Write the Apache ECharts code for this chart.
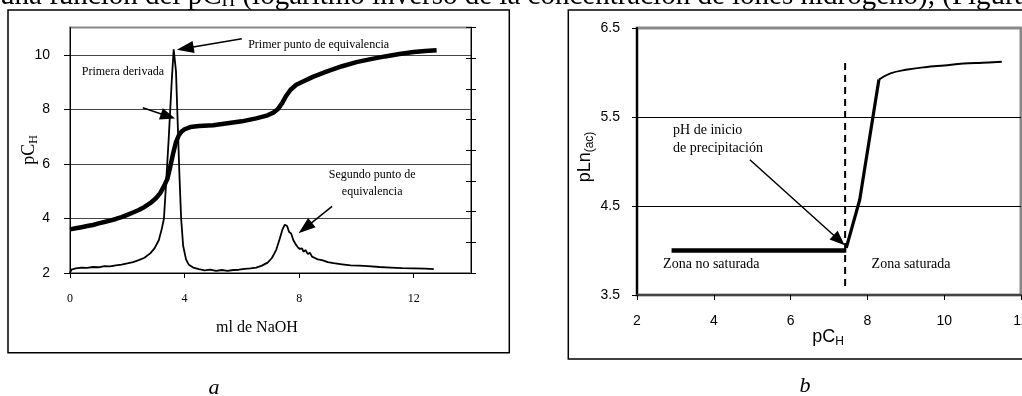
<!DOCTYPE html>
<html><head><meta charset="utf-8">
<script src="https://cdn.jsdelivr.net/npm/echarts/dist/echarts.min.js"></script>
<style>html,body{margin:0;padding:0;background:#fff;overflow:hidden}#c{width:1022px;height:396px}</style>
</head><body><div id="c"></div>
<script>
// ---- Chart a: titration (pC_H vs ml NaOH) ----
const titracion = [
 [0,3.60],[0.2,3.64],[0.4,3.68],[0.6,3.72],[0.8,3.76],[1.0,3.82],[1.2,3.87],[1.4,3.92],[1.6,3.98],[1.8,4.05],
 [2.0,4.13],[2.2,4.22],[2.4,4.31],[2.6,4.42],[2.8,4.56],[3.0,4.74],[3.15,4.93],[3.3,5.22],[3.4,5.45],[3.5,5.90],
 [3.6,6.38],[3.7,6.80],[3.8,7.05],[3.9,7.19],[4.0,7.27],[4.2,7.35],[4.5,7.39],[5.0,7.42],[5.5,7.49],[6.0,7.56],
 [6.5,7.67],[6.9,7.78],[7.1,7.88],[7.25,8.00],[7.4,8.22],[7.55,8.50],[7.7,8.72],[7.9,8.90],[8.1,9.00],[8.5,9.20],
 [9.0,9.40],[9.5,9.58],[10.0,9.73],[10.5,9.84],[11.0,9.94],[11.5,10.03],[12.0,10.10],[12.4,10.14],[12.8,10.17]
];
const derivada = [
 [0,2.0],[0.05,2.12],[0.2,2.17],[0.4,2.2],[0.6,2.19],[0.8,2.22],[1.0,2.21],[1.2,2.25],[1.4,2.24],[1.6,2.28],
 [1.8,2.31],[2.0,2.35],[2.2,2.4],[2.4,2.47],[2.6,2.56],[2.8,2.72],[2.95,2.9],[3.1,3.2],[3.2,3.6],[3.28,4.0],
 [3.35,5.2],[3.45,7.0],[3.55,9.0],[3.62,10.2],[3.70,9.4],[3.76,7.5],[3.82,5.6],[3.88,4.0],[3.95,3.0],[4.05,2.5],
 [4.15,2.3],[4.3,2.2],[4.5,2.14],[4.7,2.1],[4.9,2.12],[5.1,2.08],[5.3,2.11],[5.5,2.08],[5.7,2.11],[5.9,2.12],
 [6.1,2.15],[6.3,2.17],[6.5,2.2],[6.7,2.27],[6.9,2.38],[7.05,2.55],[7.2,2.85],[7.32,3.25],[7.42,3.6],[7.5,3.77],
 [7.58,3.72],[7.65,3.5],[7.72,3.45],[7.8,3.2],[7.88,3.05],[7.95,2.95],[8.02,2.88],[8.1,2.9],[8.15,2.78],[8.22,2.84],
 [8.3,2.7],[8.38,2.74],[8.45,2.6],[8.55,2.55],[8.65,2.5],[8.8,2.47],[9.0,2.4],[9.2,2.36],[9.5,2.32],[9.8,2.28],
 [10.1,2.27],[10.4,2.25],[10.8,2.22],[11.2,2.2],[11.6,2.18],[12.0,2.17],[12.4,2.16],[12.7,2.14]
];
// ---- Chart b: pLn(ac) vs pC_H ----
const zonaNoSaturada = [[2.9,4.0],[7.45,4.0]];
const subida = [[7.45,4.03],[7.8,4.57],[8.3,5.92]];
const meseta = [[8.3,5.92],[8.6,5.99],[9.0,6.03],[9.5,6.06],[10,6.08],[10.5,6.10],[11,6.11],[11.5,6.12]];
const inicioPrecipitacion = [[7.42,3.6],[7.42,6.13]];

const chart = echarts.init(document.getElementById('c'), null, {renderer:'canvas'});
const serif = '"Liberation Serif","Times New Roman",serif';
const sans = '"Liberation Sans",Arial,sans-serif';

const option = {
  animation:false,
  backgroundColor:'#fff',
  grid:[
    {left:70,top:27.5,width:401,height:245.5,show:true,borderColor:'#888',borderWidth:2,outerBoundsMode:'none',containLabel:false},
    {left:637,top:28,width:384,height:267,show:true,borderColor:'#888',borderWidth:3,outerBoundsMode:'none',containLabel:false}
  ],
  xAxis:[
    {gridIndex:0,type:'value',min:0,max:14,interval:4,
     axisLine:{show:true,lineStyle:{color:'#000',width:1}},
     axisTick:{show:true,length:5,lineStyle:{color:'#000'}},
     axisLabel:{fontFamily:serif,fontSize:12,color:'#000',margin:20,showMaxLabel:false},
     splitLine:{show:false}},
    {gridIndex:1,type:'value',min:2,max:12,interval:2,
     axisLine:{show:true,lineStyle:{color:'#444',width:2}},
     axisTick:{show:true,length:5,lineStyle:{color:'#000'}},
     axisLabel:{fontFamily:sans,fontSize:14,color:'#000',margin:19},
     splitLine:{show:false}}
  ],
  yAxis:[
    {gridIndex:0,type:'value',min:2,max:11,interval:2,
     axisLine:{show:true,lineStyle:{color:'#000',width:1}},
     axisTick:{show:true,length:6,lineStyle:{color:'#000'}},
     axisLabel:{fontFamily:sans,fontSize:14,color:'#000',margin:20,showMaxLabel:false},
     splitLine:{show:true,showMinLine:false,showMaxLine:false,lineStyle:{color:'#444',width:1}}},
    {gridIndex:0,type:'value',position:'right',min:0,max:8,interval:1,
     axisLine:{show:true,onZero:false,lineStyle:{color:'#000',width:1}},
     axisTick:{show:true,length:5,lineStyle:{color:'#000'}},
     axisLabel:{show:false},splitLine:{show:false}},
    {gridIndex:0,type:'value',position:'right',min:0,max:8,interval:1,
     axisLine:{show:false,onZero:false},
     axisTick:{show:true,inside:true,length:5,lineStyle:{color:'#000'}},
     axisLabel:{show:false},splitLine:{show:false}},
    {gridIndex:1,type:'value',min:3.5,max:6.5,interval:1,
     axisLine:{show:true,lineStyle:{color:'#000',width:2}},
     axisTick:{show:true,length:5,lineStyle:{color:'#000'}},
     axisLabel:{fontFamily:sans,fontSize:14,color:'#000',margin:17,formatter:v=>v.toFixed(1)},
     splitLine:{show:true,showMinLine:false,showMaxLine:false,lineStyle:{color:'#000',width:1}}}
  ],
  series:[
    {type:'line',xAxisIndex:0,yAxisIndex:0,data:titracion,showSymbol:false,symbol:'none',
     lineStyle:{color:'#000',width:4.5},z:3},
    {type:'line',xAxisIndex:0,yAxisIndex:0,data:derivada,showSymbol:false,symbol:'none',
     lineStyle:{color:'#000',width:1.8},z:4},
    {type:'line',xAxisIndex:1,yAxisIndex:3,data:zonaNoSaturada,showSymbol:false,symbol:'none',
     lineStyle:{color:'#000',width:4.5}},
    {type:'line',xAxisIndex:1,yAxisIndex:3,data:subida,showSymbol:false,symbol:'none',
     lineStyle:{color:'#000',width:3.2}},
    {type:'line',xAxisIndex:1,yAxisIndex:3,data:meseta,showSymbol:false,symbol:'none',smooth:0.4,
     lineStyle:{color:'#000',width:2}},
    {type:'line',xAxisIndex:1,yAxisIndex:3,data:inicioPrecipitacion,showSymbol:false,symbol:'none',
     lineStyle:{color:'#000',width:2,type:[7,5]}}
  ]
};
chart.setOption(option);

function P(g,pt){return chart.convertToPixel({gridIndex:g},pt);}
function arrow(g,tail,head,len,wid,lw){
  const t=P(g,tail),h=P(g,head);
  const dx=h[0]-t[0],dy=h[1]-t[1],d=Math.hypot(dx,dy),ux=dx/d,uy=dy/d;
  const bx=h[0]-ux*len,by=h[1]-uy*len,nx=-uy*wid/2,ny=ux*wid/2;
  return [
    {type:'line',shape:{x1:t[0],y1:t[1],x2:bx+ux*2,y2:by+uy*2},style:{stroke:'#000',lineWidth:lw},z:10},
    {type:'polygon',shape:{points:[[h[0],h[1]],[bx+nx,by+ny],[bx-nx,by-ny]]},style:{fill:'#000'},z:10}
  ];
}
function label(g,pt,text,font,size,align){
  const p=P(g,pt);
  return {type:'text',x:p[0],y:p[1],z:10,style:{text:text,fontFamily:font,fontSize:size,fill:'#000',align:align||'left',verticalAlign:'middle'}};
}
const gfx=[
  {type:'rect',shape:{x:8,y:10,width:501.3,height:342.7},style:{fill:'none',stroke:'#000',lineWidth:1.5},z:1},
  {type:'rect',shape:{x:568.3,y:10,width:470,height:349},style:{fill:'none',stroke:'#000',lineWidth:1.5},z:1},
  {type:'text',x:0,y:-18,z:10,style:{text:'{a|una función del pC}{b|H}{a| (logaritmo inverso de la concentración de iones hidrogeno), (Figura}',
    align:'left',verticalAlign:'top',rich:{a:{fontFamily:serif,fontSize:29,lineHeight:29,fill:'#000'},b:{fontFamily:serif,fontSize:19,lineHeight:16,verticalAlign:'bottom',fill:'#000'}}}},
  // chart a axis names
  {type:'text',x:29,y:150,rotation:Math.PI/2,z:10,style:{text:'{a|pC}{b|H}',align:'center',verticalAlign:'middle',
    rich:{a:{fontFamily:serif,fontSize:18,lineHeight:22,fill:'#000'},b:{fontFamily:serif,fontSize:12,lineHeight:12,verticalAlign:'bottom',fill:'#000'}}}},
  {type:'text',x:257,y:328,z:10,style:{text:'ml de NaOH',fontFamily:serif,fontSize:16,fill:'#000',align:'center',verticalAlign:'middle'}},
  // chart b axis names
  {type:'text',x:585,y:157,rotation:Math.PI/2,z:10,style:{text:'{a|pLn}{b|(ac)}',align:'center',verticalAlign:'middle',
    rich:{a:{fontFamily:sans,fontSize:18,lineHeight:22,fill:'#000'},b:{fontFamily:sans,fontSize:12,lineHeight:12,verticalAlign:'bottom',fill:'#000'}}}},
  {type:'text',x:828,y:337,z:10,style:{text:'{a|pC}{b|H}',align:'center',verticalAlign:'middle',
    rich:{a:{fontFamily:sans,fontSize:18,lineHeight:22,fill:'#000'},b:{fontFamily:sans,fontSize:12,lineHeight:12,verticalAlign:'bottom',fill:'#000'}}}},
  {type:'text',x:214,y:388,z:10,style:{text:'a',fontFamily:serif,fontStyle:'italic',fontSize:22,fill:'#000',align:'center',verticalAlign:'middle'}},
  {type:'text',x:805,y:386,z:10,style:{text:'b',fontFamily:serif,fontStyle:'italic',fontSize:22,fill:'#000',align:'center',verticalAlign:'middle'}},
  label(0,[6.22,10.35],'Primer punto de equivalencia',serif,12),
  label(0,[0.41,9.36],'Primera derivada',serif,12),
  label(0,[10.55,5.60],'Segundo punto de',serif,12,'center'),
  label(0,[10.55,4.99],'equivalencia',serif,12,'center'),
  label(1,[2.94,5.35],'pH de inicio',serif,14),
  label(1,[2.94,5.15],'de precipitación',serif,14),
  label(1,[2.68,3.84],'Zona no saturada',serif,14),
  label(1,[8.11,3.84],'Zona saturada',serif,14)
].concat(
  arrow(0,[6.0,10.59],[3.73,10.18],17,12,1.5),
  arrow(0,[2.54,8.06],[3.67,7.66],15,12,1.5),
  arrow(0,[9.15,4.44],[7.98,3.46],17,12,1.5),
  arrow(1,[4.94,5.02],[7.41,4.06],15,12,1.5)
);
chart.setOption({graphic:gfx});
</script></body></html>
